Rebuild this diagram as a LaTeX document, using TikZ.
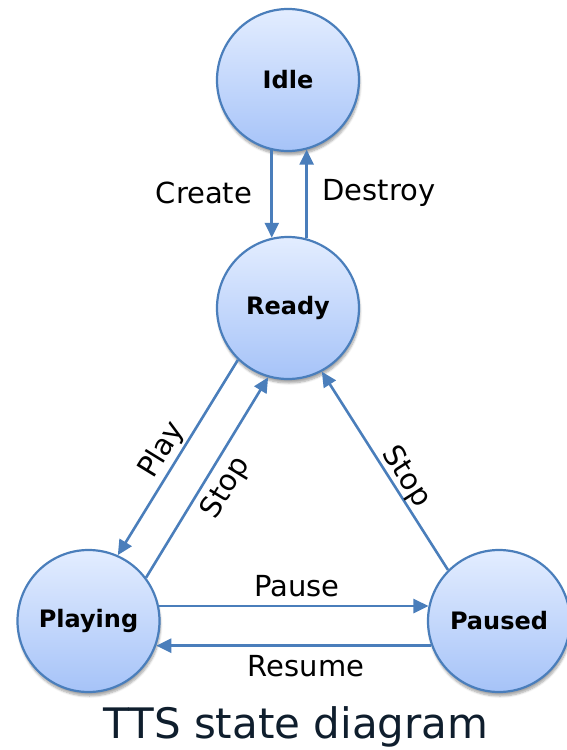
\documentclass[tikz,border=0pt]{standalone}
\usepackage{fontspec}
\setmainfont{DejaVu Sans}
\usetikzlibrary{arrows.meta,shadows.blur}
\definecolor{edgeblue}{HTML}{4A7EBB}
\definecolor{filltop}{HTML}{E3EDFF}
\definecolor{fillbot}{HTML}{A6C3F8}
\definecolor{titleink}{HTML}{0F1E2D}
\tikzset{
  state/.style={circle, minimum size=142pt, inner sep=0pt, draw=edgeblue, line width=2.2pt,
    top color=filltop, bottom color=fillbot,
    blur shadow={shadow xshift=1pt, shadow yshift=-4pt, shadow blur steps=6, shadow opacity=35},
    font=\bfseries\fontsize{24}{28}\selectfont},
  trans/.style={draw=edgeblue, line width=2.6pt, -{Triangle[length=15pt,width=14pt]}},
  lbl/.style={font=\fontsize{29}{33}\selectfont, inner sep=0pt}
}
\begin{document}
\begin{tikzpicture}[x=1pt,y=-1pt]
\useasboundingbox (0,0) rectangle (567,750);
\node[state] (idle)    at (288,80)   {Idle};
\node[state] (ready)   at (288,308)  {Ready};
\node[state] (playing) at (88.5,621) {Playing};
\node[state] (paused)  at (499,621)  {Paused};

% Idle <-> Ready
\draw[trans] (idle.257) -- (ready.103);
\draw[trans] (ready.75) -- (idle.285);
\node[lbl] (lcreate)  at (204,193) {Create};
\node[lbl] (ldestroy) at (379,193) {Destroy};

% Ready <-> Playing
\draw[trans] (ready.226) -- (playing.66);
\draw[trans] (playing.37) -- (ready.254);
\node[lbl, rotate=58.5] (lplay)  at (162,450) {Play};
\node[lbl, rotate=58.5] (lstop1) at (226,488) {Stop};

% Paused -> Ready
\draw[trans] (paused.135) -- (ready.298);
\node[lbl, rotate=-57.6] (lstop2) at (406,477) {Stop};

% Playing <-> Paused
\draw[trans] (playing.12) -- (paused.168);
\draw[trans] (paused.200) -- (playing.340);
\node[lbl] (lpause)  at (297,586) {Pause};
\node[lbl] (lresume) at (306,666) {Resume};

\node[font=\fontsize{42}{48}\selectfont, text=titleink, inner sep=0pt] (title) at (296,727) {TTS state diagram};
\end{tikzpicture}
\end{document}
